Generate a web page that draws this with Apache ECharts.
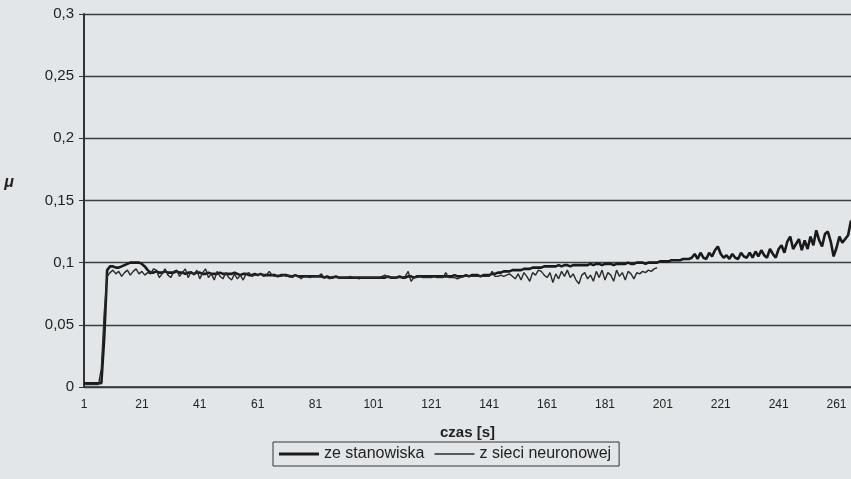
<!DOCTYPE html>
<html>
<head>
<meta charset="utf-8">
<script src="https://cdn.jsdelivr.net/npm/echarts@6/dist/echarts.min.js"></script>
<style>
  html, body { margin: 0; padding: 0; background: #e2e6e8; }
  #chart { width: 851px; height: 479px; }
</style>
</head>
<body>
<div id="chart"></div>
<script>
// czas [s] 1..266
const czas = [];
for (let i = 1; i <= 266; i++) czas.push(String(i));

const yTicks = ['0', '0,05', '0,1', '0,15', '0,2', '0,25', '0,3'];

// ze stanowiska
const zeStanowiska = [
  0.003, 0.003, 0.003, 0.003, 0.003, 0.003, 0.003, 0.040, 0.094, 0.097,
  0.097, 0.096, 0.096, 0.097, 0.098, 0.099, 0.100, 0.100, 0.100, 0.100,
  0.099, 0.097, 0.094, 0.092, 0.092, 0.093, 0.092, 0.092, 0.093, 0.092,
  0.092, 0.092, 0.093, 0.092, 0.092, 0.091, 0.092, 0.092, 0.091, 0.092,
  0.092, 0.091, 0.091, 0.092, 0.091, 0.091, 0.091, 0.092, 0.091, 0.091,
  0.091, 0.091, 0.092, 0.091, 0.090, 0.091, 0.091, 0.090, 0.090, 0.091,
  0.090, 0.091, 0.090, 0.090, 0.090, 0.090, 0.090, 0.089, 0.090, 0.090,
  0.090, 0.089, 0.089, 0.090, 0.089, 0.089, 0.089, 0.089, 0.089, 0.089,
  0.089, 0.089, 0.089, 0.088, 0.089, 0.088, 0.088, 0.089, 0.088, 0.088,
  0.088, 0.088, 0.088, 0.088, 0.088, 0.088, 0.088, 0.088, 0.088, 0.088,
  0.088, 0.088, 0.088, 0.088, 0.088, 0.089, 0.088, 0.088, 0.088, 0.089,
  0.088, 0.088, 0.089, 0.089, 0.088, 0.089, 0.089, 0.089, 0.089, 0.089,
  0.089, 0.089, 0.089, 0.089, 0.089, 0.089, 0.089, 0.089, 0.090, 0.089,
  0.089, 0.089, 0.090, 0.089, 0.090, 0.090, 0.090, 0.089, 0.090, 0.090,
  0.090, 0.091, 0.091, 0.092, 0.092, 0.093, 0.093, 0.093, 0.094, 0.094,
  0.094, 0.094, 0.095, 0.095, 0.095, 0.096, 0.096, 0.096, 0.096, 0.097,
  0.097, 0.097, 0.097, 0.097, 0.098, 0.097, 0.098, 0.098, 0.097, 0.098,
  0.098, 0.098, 0.098, 0.098, 0.098, 0.099, 0.098, 0.099, 0.099, 0.098,
  0.099, 0.099, 0.099, 0.098, 0.099, 0.099, 0.099, 0.099, 0.100, 0.099,
  0.099, 0.100, 0.100, 0.100, 0.099, 0.100, 0.100, 0.100, 0.100, 0.101,
  0.101, 0.101, 0.101, 0.102, 0.102, 0.102, 0.102, 0.103, 0.103, 0.103,
  0.104, 0.107, 0.103, 0.108, 0.104, 0.103, 0.108, 0.105, 0.110, 0.113,
  0.107, 0.104, 0.106, 0.103, 0.107, 0.104, 0.103, 0.108, 0.105, 0.104,
  0.108, 0.104, 0.109, 0.105, 0.110, 0.106, 0.104, 0.111, 0.107, 0.104,
  0.111, 0.114, 0.108, 0.117, 0.121, 0.111, 0.115, 0.119, 0.110, 0.118,
  0.111, 0.121, 0.114, 0.126, 0.118, 0.113, 0.123, 0.125, 0.117, 0.105,
  0.112, 0.121, 0.116, 0.119, 0.122, 0.134
];

// z sieci neuronowej
const zSieci = [
  0.002, 0.002, 0.002, 0.002, 0.002, 0.002, 0.015, 0.060, 0.089, 0.092,
  0.094, 0.091, 0.093, 0.089, 0.092, 0.094, 0.090, 0.093, 0.095, 0.091,
  0.093, 0.090, 0.092, 0.091, 0.095, 0.094, 0.088, 0.091, 0.095, 0.090,
  0.088, 0.093, 0.094, 0.089, 0.092, 0.095, 0.088, 0.093, 0.090, 0.094,
  0.087, 0.092, 0.095, 0.088, 0.091, 0.086, 0.093, 0.089, 0.087, 0.092,
  0.088, 0.086, 0.091, 0.087, 0.090, 0.086, 0.091, 0.092, 0.089, 0.090,
  0.090, 0.091, 0.089, 0.090, 0.093, 0.090, 0.089, 0.090, 0.089, 0.090,
  0.089, 0.090, 0.088, 0.090, 0.089, 0.087, 0.089, 0.089, 0.088, 0.089,
  0.089, 0.089, 0.091, 0.088, 0.088, 0.087, 0.089, 0.088, 0.088, 0.088,
  0.088, 0.088, 0.089, 0.088, 0.088, 0.087, 0.088, 0.088, 0.088, 0.088,
  0.088, 0.088, 0.088, 0.089, 0.090, 0.088, 0.088, 0.088, 0.088, 0.088,
  0.088, 0.089, 0.093, 0.085, 0.088, 0.088, 0.089, 0.088, 0.088, 0.088,
  0.088, 0.089, 0.088, 0.088, 0.088, 0.092, 0.088, 0.088, 0.088, 0.087,
  0.088, 0.089, 0.089, 0.089, 0.089, 0.089, 0.089, 0.089, 0.089, 0.089,
  0.089, 0.093, 0.089, 0.089, 0.090, 0.089, 0.090, 0.091, 0.089, 0.087,
  0.091, 0.086, 0.092, 0.089, 0.085, 0.092, 0.090, 0.094, 0.093, 0.090,
  0.088, 0.092, 0.084, 0.091, 0.087, 0.093, 0.089, 0.094, 0.088, 0.091,
  0.086, 0.083, 0.090, 0.092, 0.087, 0.090, 0.085, 0.093, 0.088, 0.094,
  0.086, 0.092, 0.090, 0.085, 0.094, 0.089, 0.092, 0.086, 0.093, 0.091,
  0.087, 0.092, 0.091, 0.093, 0.092, 0.094, 0.093, 0.095, 0.096
];

const chart = echarts.init(document.getElementById('chart'));

const txt = '#222';
const font = '"Liberation Sans", Arial, sans-serif';

chart.setOption({
  backgroundColor: '#e2e6e8',
  animation: false,
  textStyle: { fontFamily: font },
  grid: { left: 84, right: 0, top: 14, bottom: 92 },
  legend: {
    left: 273,
    top: 442,
    itemWidth: 40,
    itemHeight: 10,
    itemGap: 10,
    padding: [4, 8, 4, 6],
    borderColor: '#333',
    borderWidth: 1,
    textStyle: { color: txt, fontSize: 16, fontFamily: font },
    data: [
      { name: 'ze stanowiska', icon: 'path://M0,0H40V3H0Z' },
      { name: 'z sieci neuronowej', icon: 'path://M0,0H40V1.5H0Z' }
    ]
  },
  xAxis: {
    type: 'category',
    data: czas,
    boundaryGap: false,
    name: 'czas [s]',
    nameLocation: 'middle',
    nameGap: 38,
    nameTextStyle: { color: txt, fontSize: 15, fontWeight: 'bold', fontFamily: font },
    axisLine: { show: true, lineStyle: { color: '#333', width: 1.5 } },
    axisTick: { show: false },
    axisLabel: { interval: 19, color: txt, fontSize: 12, margin: 12 },
    splitLine: { show: false }
  },
  yAxis: {
    type: 'value',
    min: 0,
    max: 0.3,
    interval: 0.05,
    name: 'μ',
    nameLocation: 'end',
    nameRotate: 0,
    nameGap: 0,
    nameTextStyle: { color: txt, fontSize: 16, fontWeight: 'bold', fontStyle: 'italic', padding: [0, 0, -177, -150] },
    axisLine: { show: true, lineStyle: { color: '#333', width: 2 } },
    axisTick: { show: true, length: 5, lineStyle: { color: '#333' } },
    axisLabel: {
      color: txt,
      fontSize: 15,
      margin: 10,
      formatter: (v) => yTicks[Math.round(v / 0.05)]
    },
    splitLine: { show: true, lineStyle: { color: '#3a3f42', width: 1.3 } }
  },
  series: [
    {
      name: 'ze stanowiska',
      type: 'line',
      data: zeStanowiska,
      symbol: 'none',
      lineStyle: { color: '#1a1a1a', width: 2.6 },
      itemStyle: { color: '#1a1a1a' },
      z: 3
    },
    {
      name: 'z sieci neuronowej',
      type: 'line',
      data: zSieci,
      symbol: 'none',
      lineStyle: { color: '#2a2a2a', width: 1.4 },
      itemStyle: { color: '#2a2a2a' },
      z: 4
    }
  ]
});
</script>
</body>
</html>
